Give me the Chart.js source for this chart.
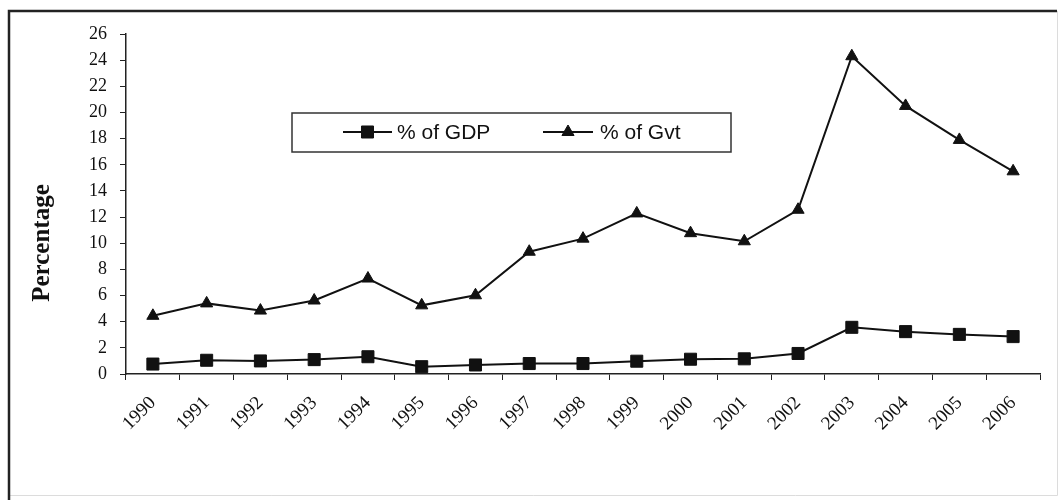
<!DOCTYPE html>
<html><head><meta charset="utf-8">
<script src="https://cdn.jsdelivr.net/npm/chart.js@4/dist/chart.umd.min.js"></script>
<style>html,body{margin:0;padding:0;background:#fff;} canvas{display:block;}</style>
</head><body>
<canvas id="c" width="1064" height="500"></canvas>
<script>
const years = ['1990','1991','1992','1993','1994','1995','1996','1997','1998','1999','2000','2001','2002','2003','2004','2005','2006'];
const gdpShare = [0.76,1.05,1.0,1.1,1.32,0.56,0.69,0.8,0.8,0.98,1.13,1.16,1.57,3.57,3.24,3.03,2.86];
const gvtShare = [4.45,5.4,4.85,5.62,7.3,5.25,6.02,9.35,10.35,12.28,10.77,10.15,12.56,24.3,20.5,17.9,15.5];
const seriesNames = ['% of GDP', '% of Gvt'];
const yAxisTitle = 'Percentage';
const yMin = 0, yMax = 26, yStep = 2;

const frame = {
  id: 'frame',
  beforeDraw(chart) {
    const ctx = chart.ctx;
    ctx.save();
    ctx.fillStyle = '#fff';
    ctx.fillRect(0, 0, chart.width, chart.height);
    ctx.strokeStyle = '#dcdcdc'; ctx.lineWidth = 1;
    ctx.beginPath(); ctx.moveTo(1057.5, 11); ctx.lineTo(1057.5, 495.5); ctx.lineTo(9, 495.5); ctx.stroke();
    ctx.strokeStyle = '#222'; ctx.lineWidth = 2.5;
    ctx.beginPath(); ctx.moveTo(9, 500); ctx.lineTo(9, 11); ctx.lineTo(1057, 11); ctx.stroke();
    ctx.restore();
  },
  afterDraw(chart) {
    const ctx = chart.ctx;
    ctx.save();
    ctx.translate(43, 243);
    ctx.rotate(-Math.PI / 2);
    ctx.fillStyle = '#111';
    ctx.font = 'bold 25px "Liberation Serif", "Times New Roman", serif';
    ctx.textAlign = 'center'; ctx.textBaseline = 'middle';
    ctx.fillText(yAxisTitle, 0, 0);
    ctx.restore();
    ctx.save();
    ctx.fillStyle = '#fff';
    ctx.fillRect(292, 113, 439, 39);
    ctx.strokeStyle = '#333'; ctx.lineWidth = 1.5;
    ctx.strokeRect(292, 113, 439, 39);
    const entries = [{x0: 343, x1: 392, tx: 397}, {x0: 543, x1: 593, tx: 600}];
    const ly = 132;
    chart.data.datasets.forEach((ds, i) => {
      const e = entries[i];
      ctx.strokeStyle = ds.borderColor; ctx.lineWidth = 2;
      ctx.beginPath(); ctx.moveTo(e.x0, ly); ctx.lineTo(e.x1, ly); ctx.stroke();
      ctx.fillStyle = ds.pointBackgroundColor; ctx.strokeStyle = ds.pointBorderColor; ctx.lineWidth = 1;
      Chart.helpers.drawPoint(ctx, {pointStyle: ds.pointStyle, radius: ds.pointRadius, borderWidth: 1}, (e.x0 + e.x1) / 2, ly);
      ctx.fillStyle = '#111';
      ctx.font = '21px "Liberation Sans", Arial, sans-serif';
      ctx.textAlign = 'left'; ctx.textBaseline = 'middle';
      ctx.fillText(ds.label, e.tx, ly + 1);
    });
    ctx.restore();
  }
};

new Chart(document.getElementById('c'), {
  type: 'line',
  data: {
    labels: years,
    datasets: [
      { label: seriesNames[0], data: gdpShare, borderColor: '#111', backgroundColor: '#111', borderWidth: 2,
        pointStyle: 'rect', pointRadius: 8.5, pointBackgroundColor: '#111', pointBorderColor: '#111', pointBorderWidth: 1, tension: 0 },
      { label: seriesNames[1], data: gvtShare, borderColor: '#111', backgroundColor: '#111', borderWidth: 2,
        pointStyle: 'triangle', pointRadius: 7, pointBackgroundColor: '#111', pointBorderColor: '#111', pointBorderWidth: 1, tension: 0 }
    ]
  },
  options: {
    responsive: false, animation: false, devicePixelRatio: 1,
    layout: { padding: { left: 20, top: 34, right: 24, bottom: 0 } },
    plugins: { legend: { display: false }, tooltip: { enabled: false } },
    scales: {
      x: {
        offset: true,
        grid: { display: true, drawOnChartArea: false, offset: true, tickLength: 6, color: '#222', lineWidth: 1 },
        border: { display: true, color: '#222', width: 1.5 },
        ticks: { minRotation: 45, maxRotation: 45, autoSkip: false, padding: 12, color: '#111',
                 font: { family: '"Liberation Serif", "Times New Roman", serif', size: 19 } },
        afterFit(scale) { scale.height = 126; }
      },
      y: {
        min: yMin, max: yMax,
        grid: { display: true, drawOnChartArea: false, tickLength: 6, color: '#222', lineWidth: 1 },
        border: { display: true, color: '#222', width: 1.5 },
        ticks: { stepSize: yStep, autoSkip: false, maxTicksLimit: 20, padding: 13, color: '#111',
                 font: { family: '"Liberation Serif", "Times New Roman", serif', size: 18 } },
        afterFit(scale) { scale.width = 106; }
      }
    }
  },
  plugins: [frame]
});
</script>
</body></html>
